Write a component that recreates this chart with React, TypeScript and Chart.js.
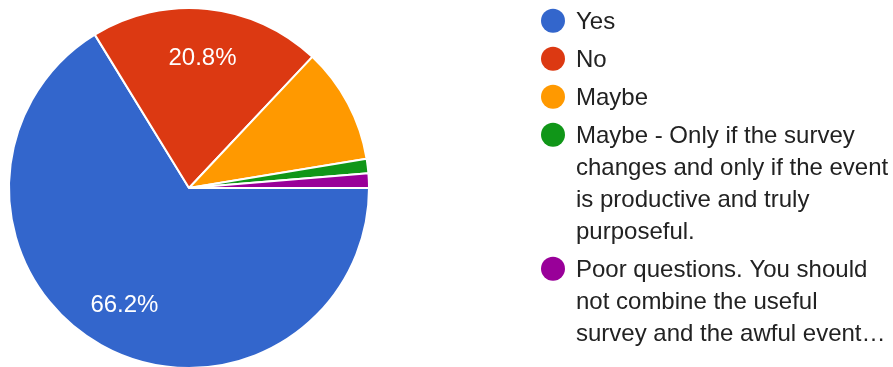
import React, { useEffect, useRef } from "react";
import { Chart, registerables } from "chart.js";

Chart.register(...registerables);

const labels: string[][] = [
  ["Yes"],
  ["No"],
  ["Maybe"],
  ["Maybe - Only if the survey", "changes and only if the event", "is productive and truly", "purposeful."],
  ["Poor questions. You should", "not combine the useful", "survey and the awful event…"],
];
const counts: number[] = [51, 16, 8, 1, 1];
const colors: string[] = ["#3366cc", "#dc3912", "#ff9900", "#109618", "#990099"];
const showPercentMin = 0.15;

const FONT = "24px Arial, 'Liberation Sans', sans-serif";

const pctLabelPlugin = {
  id: "pctLabels",
  afterDatasetsDraw(chart: any) {
    const meta = chart.getDatasetMeta(0);
    const data = chart.data.datasets[0].data as number[];
    const total = data.reduce((a, b) => a + b, 0);
    const ctx = chart.ctx;
    ctx.save();
    ctx.font = FONT;
    ctx.fillStyle = "#ffffff";
    ctx.textAlign = "center";
    ctx.textBaseline = "alphabetic";
    meta.data.forEach((arc: any, i: number) => {
      const frac = data[i] / total;
      if (frac < showPercentMin) return;
      const p = arc.getProps(["x", "y", "startAngle", "endAngle", "outerRadius"], true);
      const mid = (p.startAngle + p.endAngle) / 2;
      const r = p.outerRadius * 0.735;
      const x = p.x + Math.cos(mid) * r;
      const y = p.y + Math.sin(mid) * r;
      ctx.fillText((frac * 100).toFixed(1) + "%", x, y + 8.6);
    });
    ctx.restore();
  },
};

const legendPlugin = {
  id: "sideLegend",
  afterDraw(chart: any) {
    const ctx = chart.ctx;
    const labs = chart.data.labels as string[][];
    const bg = chart.data.datasets[0].backgroundColor as string[];
    const circleX = 553;
    const textX = 576;
    const lineH = 32;
    const itemGap = 6;
    let y = 20.7;
    ctx.save();
    ctx.font = FONT;
    ctx.textAlign = "left";
    ctx.textBaseline = "alphabetic";
    labs.forEach((lines, i) => {
      ctx.fillStyle = bg[i];
      ctx.beginPath();
      ctx.arc(circleX, y, 12, 0, Math.PI * 2);
      ctx.fill();
      ctx.fillStyle = "#222222";
      lines.forEach((ln, j) => {
        ctx.fillText(ln, textX, y + j * lineH + 8.6);
      });
      y += lines.length * lineH + itemGap;
    });
    ctx.restore();
  },
};

export default function App() {
  const ref = useRef<HTMLCanvasElement | null>(null);
  useEffect(() => {
    document.body.style.margin = "0";
    document.body.style.overflow = "hidden";
    if (!ref.current) return;
    const chart = new Chart(ref.current, {
      type: "pie",
      data: {
        labels: labels as any,
        datasets: [
          {
            data: counts,
            backgroundColor: colors,
            borderColor: "#ffffff",
            borderWidth: 2,
            hoverOffset: 0,
            offset: 0,
          } as any,
        ],
      },
      options: {
        animation: false,
        responsive: false,
        devicePixelRatio: 1,
        rotation: 90,
        layout: { padding: { left: 8, right: 523, top: 7, bottom: 0 } },
        plugins: {
          legend: { display: false },
          tooltip: { enabled: false },
        },
        events: [],
      },
      plugins: [pctLabelPlugin, legendPlugin],
    });
    return () => chart.destroy();
  }, []);
  return (
    <div style={{ width: 893, height: 367, overflow: "hidden", background: "#ffffff" }}>
      <canvas ref={ref} width={893} height={369} style={{ display: "block" }} />
    </div>
  );
}
